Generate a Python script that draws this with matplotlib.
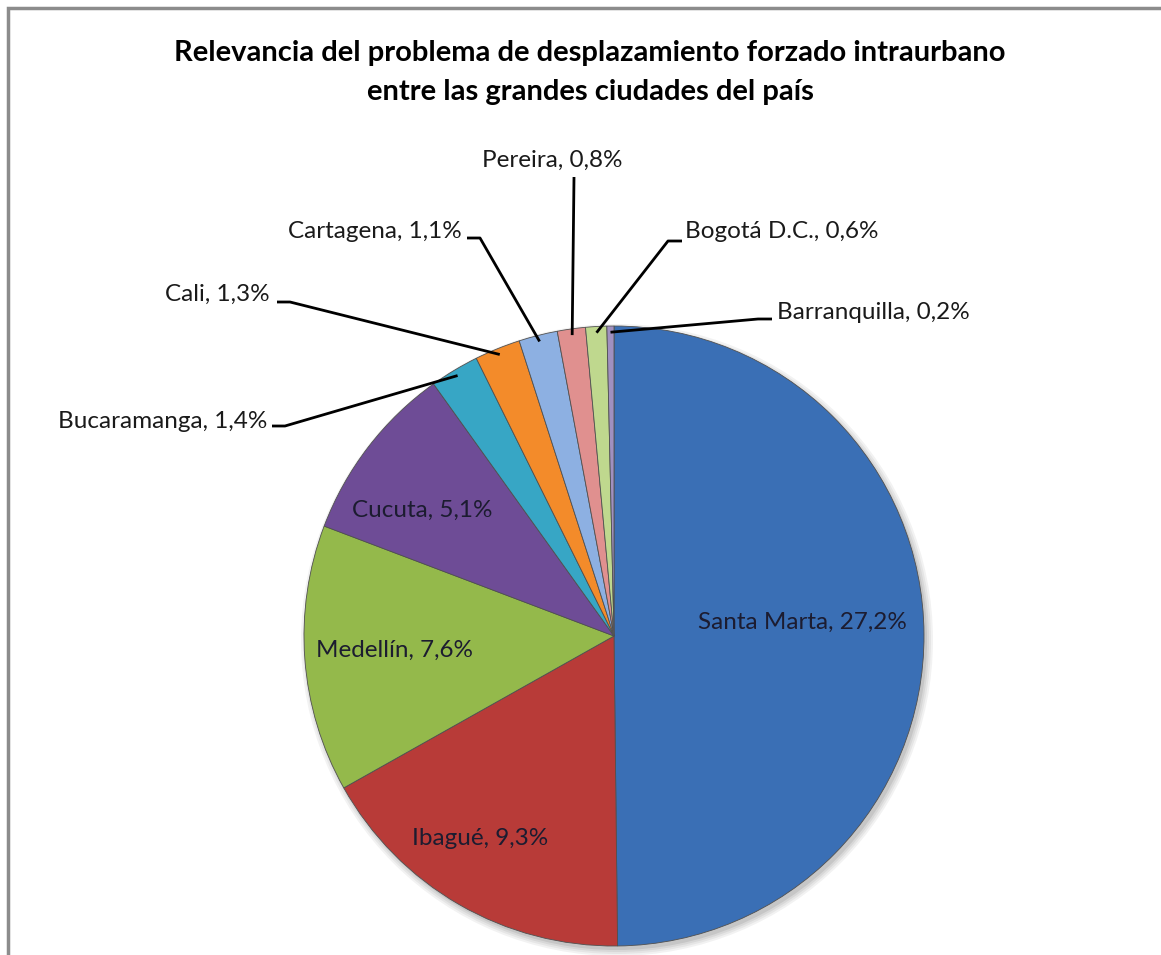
import numpy as np
import matplotlib
matplotlib.use("Agg")
import matplotlib.pyplot as plt
from matplotlib.patches import Rectangle, Circle

plt.rcParams['font.family'] = ['Lato', 'DejaVu Sans']

cities = ['Santa Marta', 'Ibagué', 'Medellín', 'Cucuta', 'Bucaramanga',
          'Cali', 'Cartagena', 'Pereira', 'Bogotá D.C.', 'Barranquilla']
values = [27.2, 9.3, 7.6, 5.1, 1.4, 1.3, 1.1, 0.8, 0.6, 0.2]
colors = ['#3A6FB5', '#B83B38', '#94B94B', '#6E4C96', '#37A6C5',
          '#F38B2A', '#8DB0E2', '#E0908F', '#BFD88E', '#A090C0']
title_lines = ['Relevancia del problema de desplazamiento forzado intraurbano',
               'entre las grandes ciudades del país']

W, H = 1161, 955
fig = plt.figure(figsize=(W / 100, H / 100), dpi=100)
ax = fig.add_axes([0, 0, 1, 1])

def py(y):
    return H - y

cx, cy, r = 614, py(636), 310

# soft shadow
for i, a in enumerate([0.05, 0.05, 0.06, 0.08]):
    ax.add_patch(Circle((cx + 3, cy - 4), r + 6 - 2 * i, color='#000000', alpha=a, lw=0, zorder=0))

wedges, _ = ax.pie(values, colors=colors, startangle=90, counterclock=False,
                   center=(cx, cy), radius=r,
                   wedgeprops=dict(edgecolor='#505050', linewidth=0.6))
ax.set_xlim(0, W)
ax.set_ylim(0, H)
ax.set_aspect('auto')
ax.axis('off')

def label_text(i):
    return '%s, %s%%' % (cities[i], ('%.1f' % values[i]).replace('.', ','))

# inside labels: center position in pixels
inside = {0: (802, 622), 1: (480, 838), 2: (395, 650), 3: (422, 510)}
for i, (x, y) in inside.items():
    ax.text(x, py(y), label_text(i), ha='center', va='center', fontsize=17.5, color='#1C1C30', zorder=5)

# outside labels: text anchor, alignment, leader stub start/end (pixels)
outside = {
    4: ((267, 428), 'right', [(272, 426), (285, 426)]),
    5: ((270, 301), 'right', [(277, 302), (290, 302)]),
    6: ((462, 238), 'right', [(467, 238), (480, 238)]),
    7: ((552, 167), 'center', [(574, 177)]),
    8: ((685, 238), 'left', [(682, 241), (668, 241)]),
    9: ((777, 319), 'left', [(772, 319), (758, 319)]),
}
for i, ((tx, ty), ha, stub) in outside.items():
    ax.text(tx, py(ty), label_text(i), ha=ha, va='baseline', fontsize=17.5, color='#1a1a1a', zorder=5)
    w = wedges[i]
    mid = np.deg2rad((w.theta1 + w.theta2) / 2)
    ex = cx + 0.98 * r * np.cos(mid)
    ey = cy + 0.98 * r * np.sin(mid)
    xs = [p[0] for p in stub] + [ex]
    ys = [py(p[1]) for p in stub] + [ey]
    ax.plot(xs, ys, color='black', lw=2, solid_capstyle='butt', zorder=4)

for line, y in zip(title_lines, [61, 100]):
    ax.text(590, py(y), line, ha='center', va='baseline', fontsize=21, fontweight='bold', color='black')

ax.add_patch(Rectangle((8, -50), W + 100, H - 8 + 50, fill=False, edgecolor='#8C8C8C', lw=2.5, clip_on=False))

fig.savefig('out.png', dpi=100)
